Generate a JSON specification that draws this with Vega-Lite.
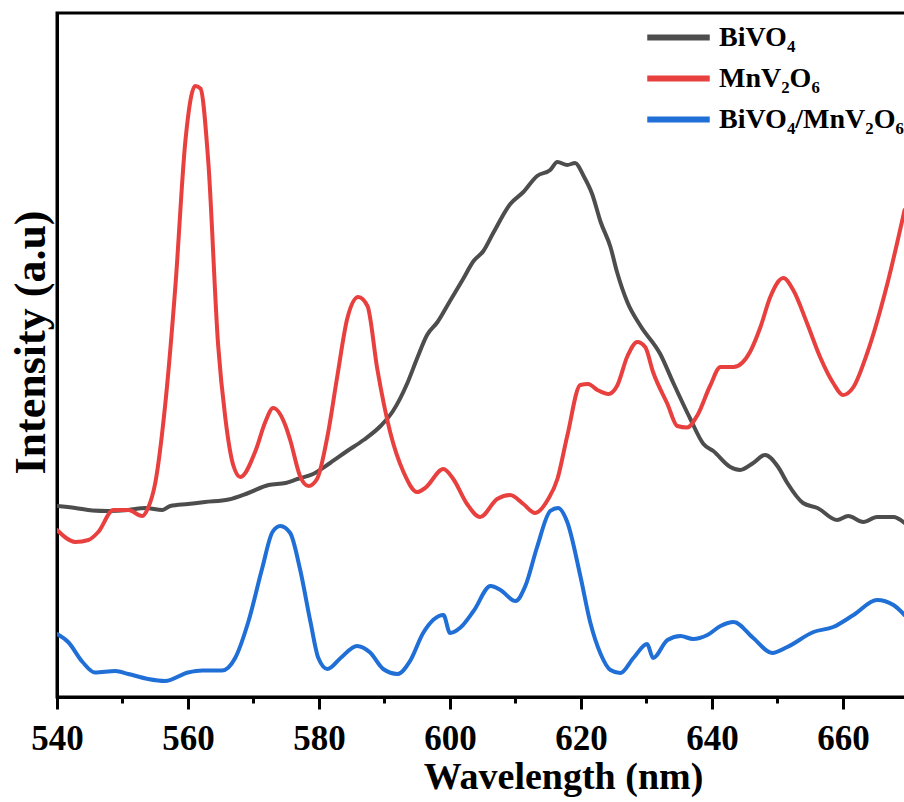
{
  "$schema": "https://vega.github.io/schema/vega-lite/v6.json",
  "width": 849,
  "height": 684,
  "autosize": {"type": "none"},
  "padding": {"left": 57, "top": 13, "right": 0, "bottom": 105},
  "background": "white",
  "config": {"view": {"stroke": "black", "strokeWidth": 3}, "font": "Liberation Serif"},
  "data": {"values": [
    {"wl":540.0,"intensity":191,"sample":"BiVO₄"},{"wl":542.8,"intensity":189,"sample":"BiVO₄"},{"wl":545.4,"intensity":186.5,"sample":"BiVO₄"},{"wl":547.8,"intensity":186,"sample":"BiVO₄"},{"wl":550.9,"intensity":187,"sample":"BiVO₄"},{"wl":553.5,"intensity":189,"sample":"BiVO₄"},{"wl":556.1,"intensity":187,"sample":"BiVO₄"},{"wl":557.3,"intensity":191,"sample":"BiVO₄"},{"wl":560.0,"intensity":193,"sample":"BiVO₄"},{"wl":562.6,"intensity":195,"sample":"BiVO₄"},{"wl":566.2,"intensity":197.5,"sample":"BiVO₄"},{"wl":569.2,"intensity":204,"sample":"BiVO₄"},{"wl":572.3,"intensity":212,"sample":"BiVO₄"},{"wl":574.9,"intensity":214,"sample":"BiVO₄"},{"wl":576.7,"intensity":218,"sample":"BiVO₄"},{"wl":579.1,"intensity":223,"sample":"BiVO₄"},{"wl":581.7,"intensity":234,"sample":"BiVO₄"},{"wl":584.3,"intensity":246,"sample":"BiVO₄"},{"wl":586.8,"intensity":257,"sample":"BiVO₄"},{"wl":589.4,"intensity":271,"sample":"BiVO₄"},{"wl":591.3,"intensity":286,"sample":"BiVO₄"},{"wl":593.5,"intensity":314,"sample":"BiVO₄"},{"wl":595.0,"intensity":339,"sample":"BiVO₄"},{"wl":596.5,"intensity":362,"sample":"BiVO₄"},{"wl":598.1,"intensity":375,"sample":"BiVO₄"},{"wl":600.0,"intensity":396,"sample":"BiVO₄"},{"wl":602.0,"intensity":418,"sample":"BiVO₄"},{"wl":603.6,"intensity":436,"sample":"BiVO₄"},{"wl":605.1,"intensity":446,"sample":"BiVO₄"},{"wl":606.6,"intensity":464,"sample":"BiVO₄"},{"wl":609.2,"intensity":493,"sample":"BiVO₄"},{"wl":611.2,"intensity":505,"sample":"BiVO₄"},{"wl":613.3,"intensity":521,"sample":"BiVO₄"},{"wl":615.3,"intensity":527,"sample":"BiVO₄"},{"wl":616.4,"intensity":535,"sample":"BiVO₄"},{"wl":617.9,"intensity":532,"sample":"BiVO₄"},{"wl":619.1,"intensity":534,"sample":"BiVO₄"},{"wl":620.4,"intensity":521,"sample":"BiVO₄"},{"wl":621.7,"intensity":503,"sample":"BiVO₄"},{"wl":623.0,"intensity":475,"sample":"BiVO₄"},{"wl":624.5,"intensity":450,"sample":"BiVO₄"},{"wl":625.5,"intensity":425,"sample":"BiVO₄"},{"wl":627.1,"intensity":394.5,"sample":"BiVO₄"},{"wl":629.1,"intensity":371,"sample":"BiVO₄"},{"wl":632.1,"intensity":343,"sample":"BiVO₄"},{"wl":634.1,"intensity":314,"sample":"BiVO₄"},{"wl":636.7,"intensity":278,"sample":"BiVO₄"},{"wl":638.7,"intensity":253,"sample":"BiVO₄"},{"wl":640.2,"intensity":246,"sample":"BiVO₄"},{"wl":642.8,"intensity":230,"sample":"BiVO₄"},{"wl":644.3,"intensity":227,"sample":"BiVO₄"},{"wl":646.3,"intensity":234,"sample":"BiVO₄"},{"wl":648.1,"intensity":242,"sample":"BiVO₄"},{"wl":650.1,"intensity":230,"sample":"BiVO₄"},{"wl":651.5,"intensity":214,"sample":"BiVO₄"},{"wl":653.9,"intensity":194,"sample":"BiVO₄"},{"wl":656.1,"intensity":189,"sample":"BiVO₄"},{"wl":659.1,"intensity":177,"sample":"BiVO₄"},{"wl":660.8,"intensity":181,"sample":"BiVO₄"},{"wl":663.1,"intensity":175,"sample":"BiVO₄"},{"wl":665.2,"intensity":180,"sample":"BiVO₄"},{"wl":667.7,"intensity":180,"sample":"BiVO₄"},{"wl":669.4,"intensity":174,"sample":"BiVO₄"},

    {"wl":540.0,"intensity":167,"sample":"MnV₂O₆"},{"wl":542.8,"intensity":155,"sample":"MnV₂O₆"},{"wl":544.8,"intensity":157,"sample":"MnV₂O₆"},{"wl":546.3,"intensity":165,"sample":"MnV₂O₆"},{"wl":548.6,"intensity":187,"sample":"MnV₂O₆"},{"wl":550.9,"intensity":187,"sample":"MnV₂O₆"},{"wl":553.0,"intensity":181,"sample":"MnV₂O₆"},{"wl":553.9,"intensity":189,"sample":"MnV₂O₆"},{"wl":555.0,"intensity":214,"sample":"MnV₂O₆"},{"wl":556.5,"intensity":291,"sample":"MnV₂O₆"},{"wl":558.1,"intensity":413,"sample":"MnV₂O₆"},{"wl":559.6,"intensity":556,"sample":"MnV₂O₆"},{"wl":561.1,"intensity":611,"sample":"MnV₂O₆"},{"wl":561.9,"intensity":608.5,"sample":"MnV₂O₆"},{"wl":563.1,"intensity":535,"sample":"MnV₂O₆"},{"wl":564.6,"intensity":352,"sample":"MnV₂O₆"},{"wl":565.7,"intensity":279,"sample":"MnV₂O₆"},{"wl":566.9,"intensity":232,"sample":"MnV₂O₆"},{"wl":568.0,"intensity":220,"sample":"MnV₂O₆"},{"wl":570.3,"intensity":246,"sample":"MnV₂O₆"},{"wl":571.8,"intensity":275,"sample":"MnV₂O₆"},{"wl":573.0,"intensity":289,"sample":"MnV₂O₆"},{"wl":574.9,"intensity":271,"sample":"MnV₂O₆"},{"wl":575.6,"intensity":257,"sample":"MnV₂O₆"},{"wl":577.1,"intensity":221,"sample":"MnV₂O₆"},{"wl":578.4,"intensity":211,"sample":"MnV₂O₆"},{"wl":579.7,"intensity":218,"sample":"MnV₂O₆"},{"wl":581.3,"intensity":261,"sample":"MnV₂O₆"},{"wl":582.8,"intensity":321,"sample":"MnV₂O₆"},{"wl":584.3,"intensity":378,"sample":"MnV₂O₆"},{"wl":586.0,"intensity":400,"sample":"MnV₂O₆"},{"wl":587.4,"intensity":391,"sample":"MnV₂O₆"},{"wl":588.9,"intensity":328,"sample":"MnV₂O₆"},{"wl":590.9,"intensity":264,"sample":"MnV₂O₆"},{"wl":592.9,"intensity":225,"sample":"MnV₂O₆"},{"wl":595.0,"intensity":205,"sample":"MnV₂O₆"},{"wl":596.2,"intensity":209,"sample":"MnV₂O₆"},{"wl":599.0,"intensity":228,"sample":"MnV₂O₆"},{"wl":600.5,"intensity":218,"sample":"MnV₂O₆"},{"wl":602.6,"intensity":193,"sample":"MnV₂O₆"},{"wl":604.6,"intensity":180,"sample":"MnV₂O₆"},{"wl":607.2,"intensity":198,"sample":"MnV₂O₆"},{"wl":609.2,"intensity":202,"sample":"MnV₂O₆"},{"wl":611.2,"intensity":193,"sample":"MnV₂O₆"},{"wl":613.0,"intensity":184,"sample":"MnV₂O₆"},{"wl":615.0,"intensity":198,"sample":"MnV₂O₆"},{"wl":616.4,"intensity":218,"sample":"MnV₂O₆"},{"wl":617.9,"intensity":261,"sample":"MnV₂O₆"},{"wl":619.9,"intensity":312,"sample":"MnV₂O₆"},{"wl":621.1,"intensity":313,"sample":"MnV₂O₆"},{"wl":622.5,"intensity":307,"sample":"MnV₂O₆"},{"wl":624.2,"intensity":303,"sample":"MnV₂O₆"},{"wl":625.5,"intensity":311,"sample":"MnV₂O₆"},{"wl":627.1,"intensity":341,"sample":"MnV₂O₆"},{"wl":628.6,"intensity":355,"sample":"MnV₂O₆"},{"wl":629.8,"intensity":350,"sample":"MnV₂O₆"},{"wl":631.0,"intensity":325,"sample":"MnV₂O₆"},{"wl":633.2,"intensity":293,"sample":"MnV₂O₆"},{"wl":634.7,"intensity":271,"sample":"MnV₂O₆"},{"wl":636.2,"intensity":269.5,"sample":"MnV₂O₆"},{"wl":637.8,"intensity":282,"sample":"MnV₂O₆"},{"wl":639.7,"intensity":311,"sample":"MnV₂O₆"},{"wl":641.3,"intensity":330,"sample":"MnV₂O₆"},{"wl":643.3,"intensity":330,"sample":"MnV₂O₆"},{"wl":645.8,"intensity":345,"sample":"MnV₂O₆"},{"wl":647.4,"intensity":370,"sample":"MnV₂O₆"},{"wl":648.9,"intensity":400,"sample":"MnV₂O₆"},{"wl":650.9,"intensity":419,"sample":"MnV₂O₆"},{"wl":652.4,"intensity":407,"sample":"MnV₂O₆"},{"wl":654.5,"intensity":374,"sample":"MnV₂O₆"},{"wl":656.5,"intensity":340,"sample":"MnV₂O₆"},{"wl":658.5,"intensity":314,"sample":"MnV₂O₆"},{"wl":660.0,"intensity":302,"sample":"MnV₂O₆"},{"wl":661.6,"intensity":310,"sample":"MnV₂O₆"},{"wl":663.7,"intensity":344,"sample":"MnV₂O₆"},{"wl":666.8,"intensity":414,"sample":"MnV₂O₆"},{"wl":669.4,"intensity":487,"sample":"MnV₂O₆"},

    {"wl":540.0,"intensity":63,"sample":"BiVO₄/MnV₂O₆"},{"wl":541.7,"intensity":55,"sample":"BiVO₄/MnV₂O₆"},{"wl":543.9,"intensity":35,"sample":"BiVO₄/MnV₂O₆"},{"wl":545.8,"intensity":24.5,"sample":"BiVO₄/MnV₂O₆"},{"wl":548.9,"intensity":26,"sample":"BiVO₄/MnV₂O₆"},{"wl":550.9,"intensity":23,"sample":"BiVO₄/MnV₂O₆"},{"wl":553.9,"intensity":18,"sample":"BiVO₄/MnV₂O₆"},{"wl":556.5,"intensity":16,"sample":"BiVO₄/MnV₂O₆"},{"wl":560.0,"intensity":24.5,"sample":"BiVO₄/MnV₂O₆"},{"wl":562.2,"intensity":26.5,"sample":"BiVO₄/MnV₂O₆"},{"wl":565.2,"intensity":26.5,"sample":"BiVO₄/MnV₂O₆"},{"wl":567.2,"intensity":39,"sample":"BiVO₄/MnV₂O₆"},{"wl":569.2,"intensity":75,"sample":"BiVO₄/MnV₂O₆"},{"wl":571.3,"intensity":128,"sample":"BiVO₄/MnV₂O₆"},{"wl":572.9,"intensity":165,"sample":"BiVO₄/MnV₂O₆"},{"wl":574.1,"intensity":171,"sample":"BiVO₄/MnV₂O₆"},{"wl":575.6,"intensity":164,"sample":"BiVO₄/MnV₂O₆"},{"wl":577.1,"intensity":128,"sample":"BiVO₄/MnV₂O₆"},{"wl":578.7,"intensity":75,"sample":"BiVO₄/MnV₂O₆"},{"wl":579.9,"intensity":39,"sample":"BiVO₄/MnV₂O₆"},{"wl":581.3,"intensity":28,"sample":"BiVO₄/MnV₂O₆"},{"wl":583.3,"intensity":39,"sample":"BiVO₄/MnV₂O₆"},{"wl":585.8,"intensity":51,"sample":"BiVO₄/MnV₂O₆"},{"wl":587.8,"intensity":44.5,"sample":"BiVO₄/MnV₂O₆"},{"wl":589.8,"intensity":28,"sample":"BiVO₄/MnV₂O₆"},{"wl":592.0,"intensity":23,"sample":"BiVO₄/MnV₂O₆"},{"wl":593.9,"intensity":36,"sample":"BiVO₄/MnV₂O₆"},{"wl":595.9,"intensity":64,"sample":"BiVO₄/MnV₂O₆"},{"wl":599.0,"intensity":82,"sample":"BiVO₄/MnV₂O₆"},{"wl":600.0,"intensity":64,"sample":"BiVO₄/MnV₂O₆"},{"wl":601.6,"intensity":69.5,"sample":"BiVO₄/MnV₂O₆"},{"wl":603.6,"intensity":86,"sample":"BiVO₄/MnV₂O₆"},{"wl":606.2,"intensity":111,"sample":"BiVO₄/MnV₂O₆"},{"wl":607.7,"intensity":107,"sample":"BiVO₄/MnV₂O₆"},{"wl":610.0,"intensity":96,"sample":"BiVO₄/MnV₂O₆"},{"wl":611.5,"intensity":111,"sample":"BiVO₄/MnV₂O₆"},{"wl":613.3,"intensity":150,"sample":"BiVO₄/MnV₂O₆"},{"wl":615.3,"intensity":186,"sample":"BiVO₄/MnV₂O₆"},{"wl":616.5,"intensity":189,"sample":"BiVO₄/MnV₂O₆"},{"wl":617.9,"intensity":175,"sample":"BiVO₄/MnV₂O₆"},{"wl":619.9,"intensity":121,"sample":"BiVO₄/MnV₂O₆"},{"wl":621.4,"intensity":75,"sample":"BiVO₄/MnV₂O₆"},{"wl":623.0,"intensity":43,"sample":"BiVO₄/MnV₂O₆"},{"wl":624.5,"intensity":27,"sample":"BiVO₄/MnV₂O₆"},{"wl":626.0,"intensity":24,"sample":"BiVO₄/MnV₂O₆"},{"wl":628.0,"intensity":39,"sample":"BiVO₄/MnV₂O₆"},{"wl":630.1,"intensity":53,"sample":"BiVO₄/MnV₂O₆"},{"wl":631.0,"intensity":39,"sample":"BiVO₄/MnV₂O₆"},{"wl":633.2,"intensity":57,"sample":"BiVO₄/MnV₂O₆"},{"wl":635.2,"intensity":61,"sample":"BiVO₄/MnV₂O₆"},{"wl":637.1,"intensity":58,"sample":"BiVO₄/MnV₂O₆"},{"wl":639.3,"intensity":62,"sample":"BiVO₄/MnV₂O₆"},{"wl":641.3,"intensity":71,"sample":"BiVO₄/MnV₂O₆"},{"wl":643.3,"intensity":75,"sample":"BiVO₄/MnV₂O₆"},{"wl":646.3,"intensity":59,"sample":"BiVO₄/MnV₂O₆"},{"wl":649.2,"intensity":44,"sample":"BiVO₄/MnV₂O₆"},{"wl":651.5,"intensity":50,"sample":"BiVO₄/MnV₂O₆"},{"wl":655.5,"intensity":65,"sample":"BiVO₄/MnV₂O₆"},{"wl":658.5,"intensity":70,"sample":"BiVO₄/MnV₂O₆"},{"wl":661.6,"intensity":82,"sample":"BiVO₄/MnV₂O₆"},{"wl":665.2,"intensity":97,"sample":"BiVO₄/MnV₂O₆"},{"wl":667.7,"intensity":92,"sample":"BiVO₄/MnV₂O₆"},{"wl":669.4,"intensity":82,"sample":"BiVO₄/MnV₂O₆"}
  ]},
  "mark": {"type": "line", "strokeWidth": 4, "clip": true, "strokeJoin": "round", "strokeCap": "round", "interpolate": "monotone"},
  "encoding": {
    "x": {
      "field": "wl", "type": "quantitative",
      "scale": {"domain": [540, 669.62], "nice": false, "zero": false},
      "axis": {
        "orient": "bottom",
        "values": [540, 550, 560, 570, 580, 590, 600, 610, 620, 630, 640, 650, 660],
        "labelExpr": "datum.value % 20 === 0 ? datum.label : ''",
        "title": "Wavelength (nm)",
        "titleFont": "Liberation Serif", "titleFontWeight": "bold", "titleFontSize": 38, "titleColor": "black",
        "titleX": 506, "titleY": 91, "titleBaseline": "alphabetic", "titleAlign": "center", "titleAnchor": "start",
        "labelFont": "Liberation Serif", "labelFontWeight": "bold", "labelFontSize": 35, "labelColor": "black",
        "labelPadding": 12, "labelFlush": false, "labelOverlap": false,
        "tickSize": {"condition": {"test": "datum.value % 20 === 0", "value": 12}, "value": 6},
        "tickWidth": 3, "tickColor": "black",
        "domainColor": "black", "domainWidth": 3, "grid": false
      }
    },
    "y": {
      "field": "intensity", "type": "quantitative",
      "scale": {"domain": [0, 684], "nice": false, "zero": false},
      "axis": {
        "title": "Intensity (a.u)",
        "titleFont": "Liberation Serif", "titleFontWeight": "bold", "titleFontSize": 44, "titleColor": "black",
        "titleX": -13, "titleY": 329, "titleAngle": 270, "titleBaseline": "alphabetic", "titleAlign": "center", "titleAnchor": "start",
        "labels": false, "ticks": false, "grid": false,
        "domainColor": "black", "domainWidth": 3
      }
    },
    "color": {
      "field": "sample", "type": "nominal",
      "scale": {"domain": ["BiVO₄", "MnV₂O₆", "BiVO₄/MnV₂O₆"], "range": ["#4d4d4d", "#e8403e", "#1f6fd6"]},
      "legend": {
        "title": null, "orient": "none", "legendX": 606, "legendY": 9,
        "symbolType": "M-2.5,0H2.5", "symbolSize": 625, "symbolStrokeWidth": 6, "symbolFillColor": "transparent",
        "labelFont": "Liberation Serif", "labelFontSize": 28, "labelFontWeight": "bold", "labelColor": "black",
        "labelOffset": 25, "rowPadding": 11, "padding": 0, "labelLimit": 400
      }
    }
  }
}
